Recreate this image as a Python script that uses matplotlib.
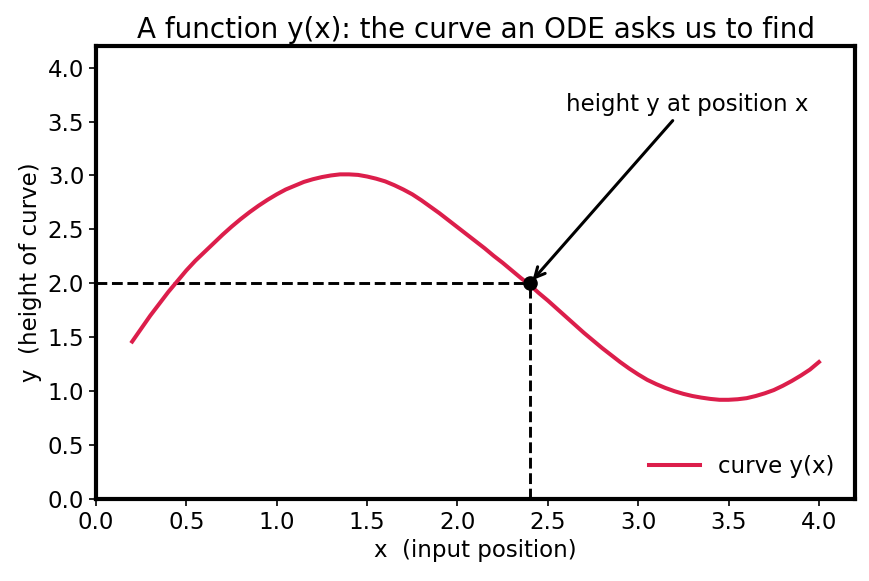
import matplotlib
matplotlib.use("Agg")
import matplotlib.pyplot as plt

# Curve values (x step 0.05)
x_vals = [0.20, 0.25, 0.30, 0.35, 0.40, 0.45, 0.50, 0.55, 0.60, 0.65, 0.70, 0.75,
          0.80, 0.85, 0.90, 0.95, 1.00, 1.05, 1.10, 1.15, 1.20, 1.25, 1.30, 1.35,
          1.40, 1.45, 1.50, 1.55, 1.60, 1.65, 1.70, 1.75, 1.80, 1.85, 1.90, 1.95,
          2.00, 2.05, 2.10, 2.15, 2.20, 2.25, 2.30, 2.35, 2.40, 2.45, 2.50, 2.55,
          2.60, 2.65, 2.70, 2.75, 2.80, 2.85, 2.90, 2.95, 3.00, 3.05, 3.10, 3.15,
          3.20, 3.25, 3.30, 3.35, 3.40, 3.45, 3.50, 3.55, 3.60, 3.65, 3.70, 3.75,
          3.80, 3.85, 3.90, 3.95, 4.00]
y_vals = [1.46, 1.58, 1.70, 1.81, 1.92, 2.02, 2.12, 2.21, 2.29, 2.37, 2.45, 2.525,
          2.595, 2.66, 2.72, 2.775, 2.825, 2.87, 2.905, 2.94, 2.965, 2.985, 3.00, 3.01,
          3.01, 3.005, 2.99, 2.97, 2.945, 2.91, 2.87, 2.825, 2.77, 2.71, 2.65, 2.585,
          2.52, 2.455, 2.39, 2.325, 2.255, 2.19, 2.12, 2.05, 1.985, 1.91, 1.84, 1.765,
          1.69, 1.615, 1.54, 1.47, 1.40, 1.335, 1.27, 1.21, 1.155, 1.105, 1.065, 1.03,
          1.00, 0.975, 0.955, 0.94, 0.928, 0.92, 0.92, 0.925, 0.935, 0.955, 0.98, 1.01,
          1.05, 1.095, 1.145, 1.20, 1.27]

point_x = 2.4
point_y = 2.0
x_ticks = [0.0, 0.5, 1.0, 1.5, 2.0, 2.5, 3.0, 3.5, 4.0]
y_ticks = [0.0, 0.5, 1.0, 1.5, 2.0, 2.5, 3.0, 3.5, 4.0]

fig = plt.figure(figsize=(8.69, 5.81), dpi=100)
ax = fig.add_axes([0.1105, 0.1411, 0.8735, 0.7797])

ax.plot(x_vals, y_vals, color="#DC1E4B", lw=2.9, label="curve y(x)", zorder=3,
        solid_joinstyle="round")
ax.plot([0, point_x], [point_y, point_y], color="black", ls="--", lw=2.1, zorder=2)
ax.plot([point_x, point_x], [0, point_y], color="black", ls="--", lw=2.1, zorder=2)
ax.plot([point_x], [point_y], "o", color="black", ms=9.5, zorder=4)

ax.annotate("height y at position x", xy=(point_x, point_y), xytext=(2.6, 3.6),
            fontsize=16.5, arrowprops=dict(arrowstyle="->", lw=2.2, color="black",
                                           mutation_scale=18, shrinkB=3))

ax.set_xlim(0, 4.2)
ax.set_ylim(0, 4.2)
ax.set_xticks(x_ticks)
ax.set_yticks(y_ticks)
ax.tick_params(labelsize=16.5, length=5, width=1.2)
for s in ax.spines.values():
    s.set_linewidth(3)

ax.set_title("A function y(x): the curve an ODE asks us to find", fontsize=20)
ax.set_xlabel("x  (input position)", fontsize=16.5)
ax.set_ylabel("y  (height of curve)", fontsize=16.5)
ax.legend(loc="lower right", frameon=False, fontsize=16.5, handlelength=2.2)

fig.savefig("out.png", dpi=100)
